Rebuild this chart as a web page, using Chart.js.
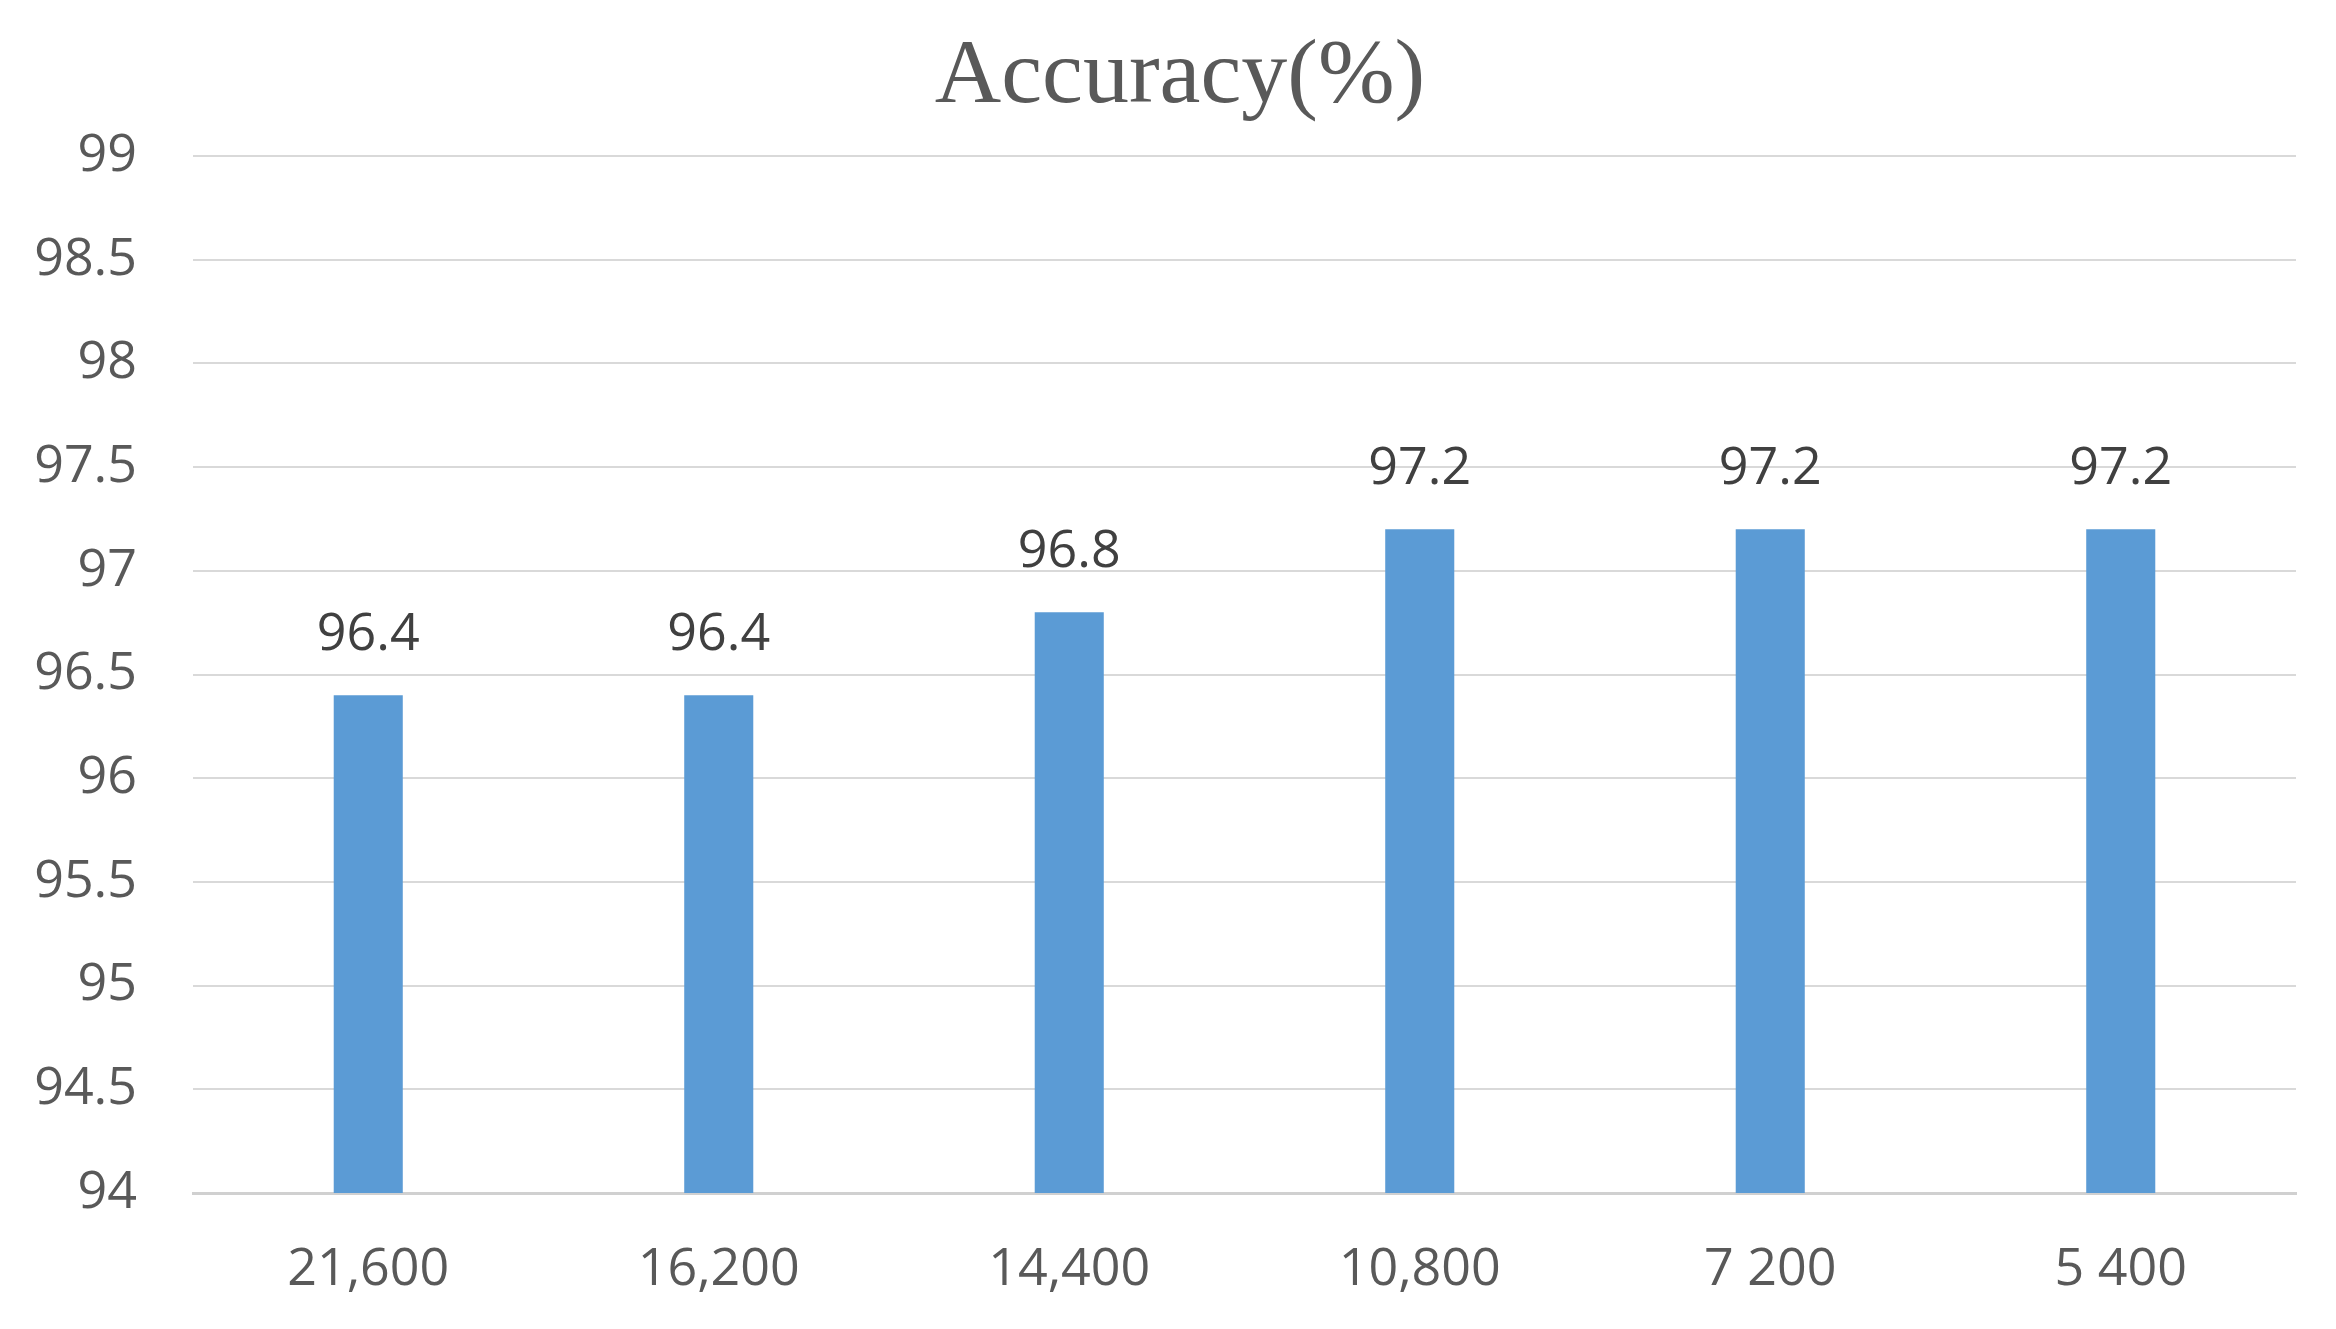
<!DOCTYPE html>
<html><head><meta charset="utf-8">
<script src="https://cdn.jsdelivr.net/npm/chart.js@4"></script>
<style>html,body{margin:0;padding:0;background:#fff}#wrap{width:2336px;height:1329px}</style>
</head><body><div id="wrap"><canvas id="c" width="2336" height="1329"></canvas></div>
<script>
const categories = ["21,600", "16,200", "14,400", "10,800", "7 200", "5 400"];
const accuracy = [96.4, 96.4, 96.8, 97.2, 97.2, 97.2];
const yMin = 94, yMax = 99, yStep = 0.5;
const titleText = "Accuracy(%)";

const labelPlugin = {
  id: 'valueLabels',
  afterDatasetsDraw(chart) {
    const ctx = chart.ctx;
    const meta = chart.getDatasetMeta(0);
    ctx.save();
    ctx.font = '52px "Open Sans"';
    ctx.fillStyle = '#404040';
    ctx.textAlign = 'center';
    ctx.textBaseline = 'alphabetic';
    meta.data.forEach((bar, i) => {
      ctx.fillText(String(chart.data.datasets[0].data[i]), bar.x, bar.y - 45);
    });
    ctx.restore();
  }
};

const titlePlugin = {
  id: 'serifTitle',
  afterDraw(chart) {
    const ctx = chart.ctx;
    ctx.save();
    ctx.font = '92px "Liberation Serif", "Times New Roman", serif';
    ctx.fillStyle = '#595959';
    ctx.textAlign = 'center';
    ctx.textBaseline = 'alphabetic';
    ctx.fillText(titleText, 1180, 102);
    ctx.restore();
  }
};

new Chart(document.getElementById('c'), {
  type: 'bar',
  data: {
    labels: categories,
    datasets: [{
      data: accuracy,
      backgroundColor: '#5b9bd5',
      borderWidth: 0,
      barPercentage: 0.197,
      categoryPercentage: 1
    }]
  },
  options: {
    responsive: false,
    animation: false,
    devicePixelRatio: 1,
    layout: { padding: { left: 0, right: 40, top: 156, bottom: 0 } },
    plugins: {
      legend: { display: false },
      tooltip: { enabled: false },
      title: { display: false }
    },
    scales: {
      x: {
        grid: { display: false, drawTicks: false },
        border: { display: true, color: '#d0d0d0', width: 3 },
        ticks: { color: '#595959', font: { family: '"Open Sans"', size: 52 }, padding: 46, maxRotation: 0 },
        afterFit(s) { s.height = 136; }
      },
      y: {
        min: yMin, max: yMax,
        grid: { color: '#d9d9d9', lineWidth: 2, drawTicks: false },
        border: { display: false },
        ticks: {
          stepSize: yStep, color: '#595959', font: { family: '"Open Sans"', size: 52 }, padding: 56,
          callback(v) { return String(Math.round(v * 10) / 10); }
        },
        afterFit(s) { s.width = 193; }
      }
    }
  },
  plugins: [labelPlugin, titlePlugin]
});
</script></body></html>
